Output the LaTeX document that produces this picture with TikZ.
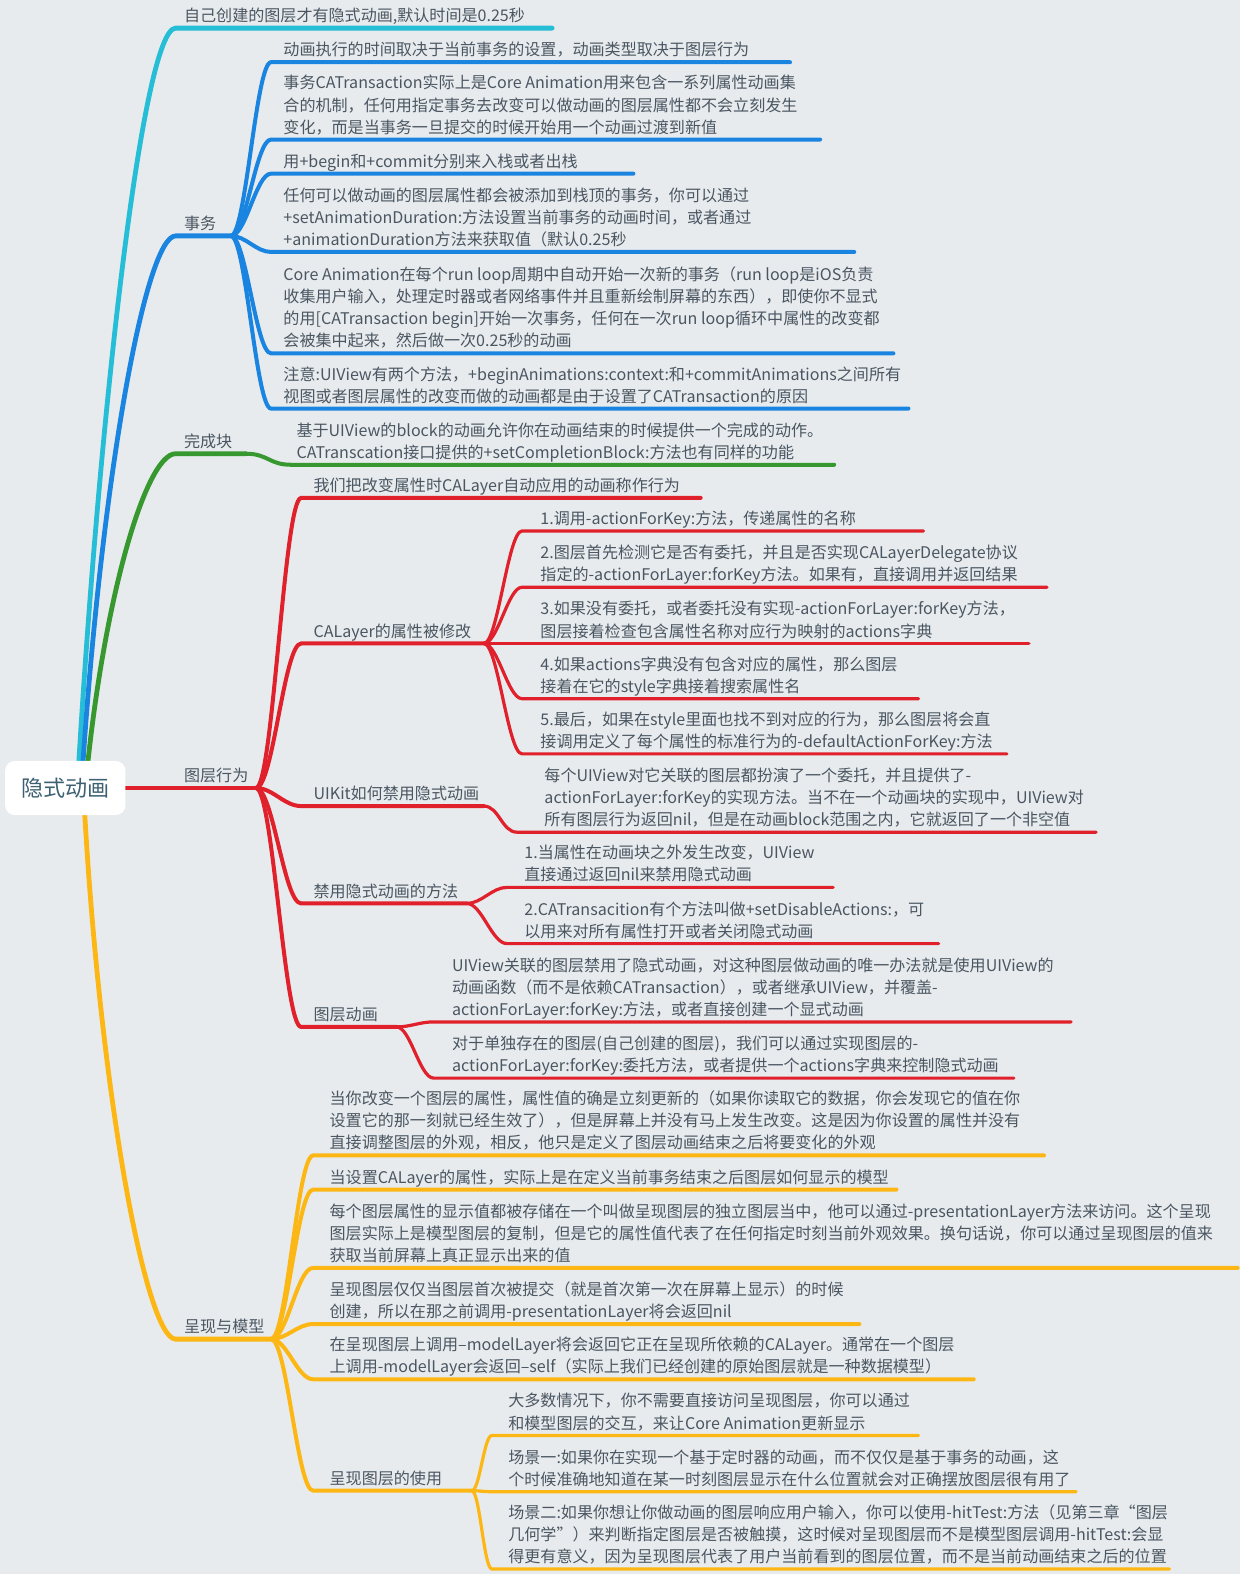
\documentclass[tikz,border=0pt]{standalone}
\usepackage{fontspec}
\setmainfont{Noto Sans CJK SC}
\usetikzlibrary{backgrounds}
\definecolor{bgc}{HTML}{E8EBEE}
\definecolor{txt}{HTML}{4A5661}
\definecolor{rootc}{HTML}{3D6172}
\definecolor{cyanc}{HTML}{26BDD6}
\definecolor{bluec}{HTML}{1A85E0}
\definecolor{greenc}{HTML}{36982E}
\definecolor{redc}{HTML}{E0212B}
\definecolor{yelc}{HTML}{FDB714}
\newcommand{\mmleaf}[6]{%
  \node[lt] (#1) at (#2,#3) {#6\rule[-3pt]{0pt}{3pt}};
  \coordinate (#1-s) at (#4,#3);
  \coordinate (#1-e) at (#5,#3);}
\tikzset{
  lt/.style={anchor=south west, inner sep=0pt, align=left, text=txt,
    font=\fontsize{8pt}{11pt}\selectfont},
  rootbox/.style={fill=white, rounded corners=5pt, minimum width=60pt,
    minimum height=27pt, inner sep=0pt, text=rootc,
    font=\fontsize{11pt}{13pt}\selectfont},
  mainline/.style={line width=2.4pt, line cap=round},
  lvtwo/.style={line width=2pt, line cap=round},
  lvthree/.style={line width=1.6pt, line cap=round},
}
\begin{document}
\begin{tikzpicture}[x=0.5pt,y=-0.5pt]
\useasboundingbox (0,0) rectangle (1235,1568);
\node[rootbox] (root) at (65,785) {隐式动画};
% ---------- cyan
\mmleaf{c1}{183}{28}{175}{550}{自己创建的图层才有隐式动画,默认时间是0.25秒}
% ---------- blue
\mmleaf{sw}{183}{235}{175}{230}{事务}
\mmleaf{b1}{282}{62}{270}{787}{动画执行的时间取决于当前事务的设置，动画类型取决于图层行为}
\mmleaf{b2}{282}{139}{270}{817}{事务CATransaction实际上是Core Animation用来包含一系列属性动画集\\合的机制，任何用指定事务去改变可以做动画的图层属性都不会立刻发生\\变化，而是当事务一旦提交的时候开始用一个动画过渡到新值}
\mmleaf{b3}{282}{173}{270}{631}{用+begin和+commit分别来入栈或者出栈}
\mmleaf{b4}{282}{251}{270}{851}{任何可以做动画的图层属性都会被添加到栈顶的事务，你可以通过\\+setAnimationDuration:方法设置当前事务的动画时间，或者通过\\+animationDuration方法来获取值（默认0.25秒}
\mmleaf{b5}{282}{352}{270}{890}{Core Animation在每个run loop周期中自动开始一次新的事务（run loop是iOS负责\\收集用户输入，处理定时器或者网络事件并且重新绘制屏幕的东西），即使你不显式\\的用[CATransaction begin]开始一次事务，任何在一次run loop循环中属性的改变都\\会被集中起来，然后做一次0.25秒的动画}
\mmleaf{b6}{282}{407}{270}{905}{注意:UIView有两个方法，+beginAnimations:context:和+commitAnimations之间所有\\视图或者图层属性的改变而做的动画都是由于设置了CATransaction的原因}
% ---------- green
\mmleaf{gr}{183}{452}{175}{245}{完成块}
\mmleaf{g1}{295}{463}{290}{831}{基于UIView的block的动画允许你在动画结束的时候提供一个完成的动作。\\CATranscation接口提供的+setCompletionBlock:方法也有同样的功能}
% ---------- red
\mmleaf{rd}{183}{785}{125}{255}{图层行为}
\mmleaf{r1}{312}{496}{300}{698}{我们把改变属性时CALayer自动应用的动画称作行为}
\mmleaf{r2}{312}{641}{300}{482}{CALayer的属性被修改}
\mmleaf{r21}{538}{529}{520}{920}{1.调用-actionForKey:方法，传递属性的名称}
\mmleaf{r22}{538}{585}{520}{1043}{2.图层首先检测它是否有委托，并且是否实现CALayerDelegate协议\\指定的-actionForLayer:forKey方法。如果有，直接调用并返回结果}
\mmleaf{r23}{538}{641}{520}{1025}{3.如果没有委托，或者委托没有实现-actionForLayer:forKey方法，\\图层接着检查包含属性名称对应行为映射的actions字典}
\mmleaf{r24}{538}{696}{520}{915}{4.如果actions字典没有包含对应的属性，那么图层\\接着在它的style字典接着搜索属性名}
\mmleaf{r25}{538}{751}{520}{1003}{5.最后，如果在style里面也找不到对应的行为，那么图层将会直\\接调用定义了每个属性的标准行为的-defaultActionForKey:方法}
\mmleaf{r3}{312}{803}{300}{482}{UIKit如何禁用隐式动画}
\mmleaf{r31}{542}{829}{515}{1092}{每个UIView对它关联的图层都扮演了一个委托，并且提供了-\\actionForLayer:forKey的实现方法。当不在一个动画块的实现中，UIView对\\所有图层行为返回nil，但是在动画block范围之内，它就返回了一个非空值}
\mmleaf{r4}{312}{900}{300}{465}{禁用隐式动画的方法}
\mmleaf{r41}{522}{884}{505}{830}{1.当属性在动画块之外发生改变，UIView\\直接通过返回nil来禁用隐式动画}
\mmleaf{r42}{522}{940}{505}{935}{2.CATransacition有个方法叫做+setDisableActions:，可\\以用来对所有属性打开或者关闭隐式动画}
\mmleaf{r5}{312}{1023}{300}{395}{图层动画}
\mmleaf{r51}{450}{1018}{432}{1067}{UIView关联的图层禁用了隐式动画，对这种图层做动画的唯一办法就是使用UIView的\\动画函数（而不是依赖CATransaction），或者继承UIView，并覆盖-\\actionForLayer:forKey:方法，或者直接创建一个显式动画}
\mmleaf{r52}{450}{1074}{432}{1010}{对于单独存在的图层(自己创建的图层)，我们可以通过实现图层的-\\actionForLayer:forKey:委托方法，或者提供一个actions字典来控制隐式动画}
% ---------- yellow
\mmleaf{yl}{183}{1334}{175}{270}{呈现与模型}
\mmleaf{y1}{328}{1151}{312}{1040}{当你改变一个图层的属性，属性值的确是立刻更新的（如果你读取它的数据，你会发现它的值在你\\设置它的那一刻就已经生效了），但是屏幕上并没有马上发生改变。这是因为你设置的属性并没有\\直接调整图层的外观，相反，他只是定义了图层动画结束之后将要变化的外观}
\mmleaf{y2}{328}{1185}{312}{893}{当设置CALayer的属性，实际上是在定义当前事务结束之后图层如何显示的模型}
\mmleaf{y3}{328}{1263}{312}{1233}{每个图层属性的显示值都被存储在一个叫做呈现图层的独立图层当中，他可以通过-presentationLayer方法来访问。这个呈现\\图层实际上是模型图层的复制，但是它的属性值代表了在任何指定时刻当前外观效果。换句话说，你可以通过呈现图层的值来\\获取当前屏幕上真正显示出来的值}
\mmleaf{y4}{328}{1319}{312}{856}{呈现图层仅仅当图层首次被提交（就是首次第一次在屏幕上显示）的时候\\创建，所以在那之前调用-presentationLayer将会返回nil}
\mmleaf{y5}{328}{1374}{312}{970}{在呈现图层上调用–modelLayer将会返回它正在呈现所依赖的CALayer。通常在一个图层\\上调用-modelLayer会返回–self（实际上我们已经创建的原始图层就是一种数据模型）}
\mmleaf{y6}{328}{1485}{312}{470}{呈现图层的使用}
\mmleaf{y61}{506}{1430}{490}{915}{大多数情况下，你不需要直接访问呈现图层，你可以通过\\和模型图层的交互，来让Core Animation更新显示}
\mmleaf{y62}{506}{1486}{490}{1072}{场景一:如果你在实现一个基于定时器的动画，而不仅仅是基于事务的动画，这\\个时候准确地知道在某一时刻图层显示在什么位置就会对正确摆放图层很有用了}
\mmleaf{y63}{506}{1563}{490}{1165}{场景二:如果你想让你做动画的图层响应用户输入，你可以使用-hitTest:方法（见第三章“图层\\几何学”）来判断指定图层是否被触摸，这时候对呈现图层而不是模型图层调用-hitTest:会显\\得更有意义，因为呈现图层代表了用户当前看到的图层位置，而不是当前动画结束之后的位置}

\begin{scope}[on background layer]
\fill[bgc] (0,0) rectangle (1235,1568);
% main branches
\draw[cyanc,mainline] ([xshift=6pt]root.center) .. controls (98,420) and (142,28) .. (c1-s) -- (c1-e);
\draw[bluec,mainline] ([xshift=8pt]root.center) .. controls (100,480) and (145,235) .. (sw-s) -- (sw-e);
\draw[greenc,mainline] ([xshift=10pt]root.center) .. controls (102,600) and (145,452) .. (gr-s) -- (gr-e);
\draw[redc,mainline] (root.east) -- (rd-e);
\draw[yelc,mainline] ([xshift=9pt]root.center) .. controls (98,1080) and (145,1334) .. (yl-s) -- (yl-e);
% blue fan
\foreach \n in {b1,b2,b3,b4,b5,b6}
  \draw[bluec,lvtwo] (sw-e) .. controls +(15,0) and +(-15,0) .. (\n-s) -- (\n-e);
% green
\draw[greenc,lvtwo] (gr-e) .. controls +(22,0) and +(-22,0) .. (g1-s) -- (g1-e);
% red fan
\foreach \n in {r1,r2,r3,r4,r5}
  \draw[redc,lvtwo] (rd-e) .. controls +(17,0) and +(-17,0) .. (\n-s) -- (\n-e);
\foreach \n in {r21,r22,r23,r24,r25}
  \draw[redc,lvthree] (r2-e) .. controls +(14,0) and +(-14,0) .. (\n-s) -- (\n-e);
\draw[redc,lvthree] (r3-e) .. controls +(15,0) and +(-15,0) .. (r31-s) -- (r31-e);
\foreach \n in {r41,r42}
  \draw[redc,lvthree] (r4-e) .. controls +(15,0) and +(-15,0) .. (\n-s) -- (\n-e);
\foreach \n in {r51,r52}
  \draw[redc,lvthree] (r5-e) .. controls +(14,0) and +(-14,0) .. (\n-s) -- (\n-e);
% yellow fan
\foreach \n in {y1,y2,y3,y4,y5,y6}
  \draw[yelc,lvtwo] (yl-e) .. controls +(16,0) and +(-16,0) .. (\n-s) -- (\n-e);
\foreach \n in {y61,y62,y63}
  \draw[yelc,lvthree] (y6-e) .. controls +(8,0) and +(-8,0) .. (\n-s) -- (\n-e);
\end{scope}
\end{tikzpicture}
\end{document}
